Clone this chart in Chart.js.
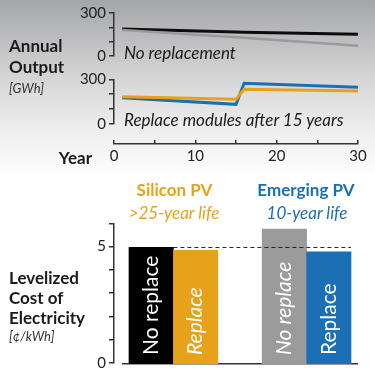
<!DOCTYPE html>
<html><head><meta charset="utf-8">
<script src="https://cdn.jsdelivr.net/npm/chart.js@4"></script>
<style>
html,body{margin:0;padding:0;}
body{width:375px;height:375px;position:relative;overflow:hidden;
 background:linear-gradient(to bottom,#a4a5a7 0px,#d4d4d5 75px,#eeeeee 130px,#ffffff 178px,#ffffff 375px);
 font-family:Lato,sans-serif;color:#1a1a1a;}
canvas{position:absolute;left:0;top:0;}
.t{position:absolute;white-space:nowrap;line-height:1;transform:translateY(-50%);}
.b{font-weight:700;font-size:17px;}
.i{font-style:italic;font-size:17px;}
.s{font-style:italic;font-size:13px;color:#333;}
.c{transform:translate(-50%,-50%);}
</style></head><body>
<canvas id="p1" width="375" height="375"></canvas>
<canvas id="p2" width="375" height="375"></canvas>
<canvas id="px" width="375" height="375"></canvas>
<canvas id="by" width="375" height="375"></canvas>
<canvas id="bb" width="375" height="375"></canvas>

<div class="t b" style="left:9px;top:45px">Annual</div>
<div class="t b" style="left:9px;top:66px">Output</div>
<div class="t s" style="left:9px;top:88px">[GWh]</div>
<div class="t b" style="right:283px;top:157px">Year</div>
<div class="t i" style="left:124px;top:52px">No replacement</div>
<div class="t i" style="left:124px;top:119px">Replace modules after 15 years</div>
<div class="t b c" style="left:174.5px;top:188.5px;color:#e8a11b">Silicon PV</div>
<div class="t i c" style="left:174px;top:212px;color:#e8a11b">&gt;25-year life</div>
<div class="t b c" style="left:306px;top:188.5px;color:#1a6fb5">Emerging PV</div>
<div class="t i c" style="left:307px;top:212px;color:#1a6fb5">10-year life</div>
<div class="t b" style="left:9px;top:277px">Levelized</div>
<div class="t b" style="left:9px;top:297px">Cost of</div>
<div class="t b" style="left:9px;top:317px">Electricity</div>
<div class="t s" style="left:9px;top:336px">[¢/kWh]</div>

<script>
// ---- data ----
const years = [1, 15, 16, 30];
const siliconNoReplace = [188, 167, 166, 151];
const emergingNoReplace = [181, 130, 127, 72];
const siliconReplace = [183, 166, 233, 221];
const emergingReplace = [176, 132, 273, 246];
const outputTicks = [0, 300];
const yearTicks = [0, 10, 20, 30];

const barLabels = ['No replace', 'Replace', 'No replace', 'Replace'];
const barSlots = [0, 1, 3, 4];
const lcoe = [4.97, 4.85, 5.75, 4.78];
const lcoeTicks = [0, 5];

// ---- styles ----
const BLACK = '#0d0d0d', GRAY = '#9a9a9a', ORANGE = '#e8a11b', BLUE = '#1a6fb5';
const barColors = ['#000000', ORANGE, '#9b9b9b', BLUE];
const barItalic = [false, true, true, false];
const AXIS = '#333333';

Chart.defaults.font.family = 'Lato';
Chart.defaults.font.size = 15;
Chart.defaults.color = '#222';
Chart.defaults.animation = false;
Chart.defaults.responsive = false;
Chart.defaults.devicePixelRatio = 1;
Chart.defaults.plugins.legend.display = false;
Chart.defaults.plugins.tooltip.enabled = false;

function pts(ys) { return years.map((x, i) => ({x, y: ys[i]})); }

function yAxis(min, max, step, labels) {
  return {
    type: 'linear', min, max,
    afterFit: s => { s.width = 114; },
    ticks: { stepSize: step, padding: 3, autoSkip: false, callback: v => labels.includes(v) ? String(v) : '' },
    grid: { drawOnChartArea: false, tickLength: 5, color: AXIS, lineWidth: 1.5 },
    border: { color: AXIS, width: 1.5 }
  };
}
const hiddenX = { type: 'linear', min: 0, max: 30, display: false };

function linePanel(id, top, bottom, sets) {
  new Chart(document.getElementById(id), {
    type: 'line',
    data: { datasets: sets.map(([d, c, w]) => ({ data: pts(d), borderColor: c, borderWidth: w, pointRadius: 0, tension: 0, fill: false })) },
    options: {
      layout: { padding: { left: 0, right: 17, top, bottom: 375 - bottom } },
      scales: { x: hiddenX, y: yAxis(0, 300, 100, outputTicks) }
    }
  });
}
linePanel('p1', 13, 56, [[emergingNoReplace, GRAY, 2.5], [siliconNoReplace, BLACK, 3]]);
linePanel('p2', 79.3, 124, [[siliconReplace, ORANGE, 3], [emergingReplace, BLUE, 3]]);

// Year axis
new Chart(document.getElementById('px'), {
  type: 'line',
  data: { datasets: [] },
  options: {
    layout: { padding: { left: 114, right: 17, top: 140, bottom: 375 - 143.5 - 30 } },
    scales: {
      x: {
        type: 'linear', min: 0, max: 30,
        afterFit: s => { s.height = 30; },
        ticks: { stepSize: 5, padding: 4, maxRotation: 0, autoSkip: false, callback: v => yearTicks.includes(v) ? String(v) : '' },
        grid: { drawTicks: false, color: AXIS, lineWidth: 1.5 },
        border: { color: AXIS, width: 1.5 }
      },
      y: { display: false }
    }
  }
});

// LCOE y axis
new Chart(document.getElementById('by'), {
  type: 'line',
  data: { datasets: [] },
  options: {
    layout: { padding: { left: 0, right: 17, top: 223.3, bottom: 11 } },
    scales: { x: { display: false }, y: yAxis(0, 6, 1, lcoeTicks) }
  }
});

// bars
const barText = {
  id: 'barText',
  afterDatasetsDraw(chart) {
    const meta = chart.getDatasetMeta(0);
    const ctx = chart.ctx;
    meta.data.forEach((el, i) => {
      const p = el.getProps(['x', 'base'], true);
      ctx.save();
      ctx.translate(p.x, p.base - 9);
      ctx.rotate(-Math.PI / 2);
      ctx.font = (barItalic[i] ? 'italic ' : '') + '21px Lato';
      ctx.fillStyle = '#ffffff';
      ctx.textAlign = 'left';
      ctx.textBaseline = 'middle';
      ctx.fillText(barLabels[i], 0, 0);
      ctx.restore();
    });
  }
};
new Chart(document.getElementById('bb'), {
  type: 'bar',
  data: {
    datasets: [
      { type: 'bar', order: 2, data: barSlots.map((x, i) => ({x, y: lcoe[i]})), backgroundColor: barColors,
        categoryPercentage: 1, barPercentage: 1, borderWidth: 0 },
      { type: 'line', order: 1, data: [{x: barSlots[0] + 0.5, y: lcoe[0]}, {x: barSlots[3] + 0.5, y: lcoe[0]}],
        borderColor: '#222', borderWidth: 1, borderDash: [4, 3], pointRadius: 0, fill: false }
    ]
  },
  options: {
    layout: { padding: { left: 123, right: 18, top: 223.3, bottom: 11 } },
    scales: {
      x: { type: 'linear', min: -0.635, max: 4.635, offset: false,
        afterFit: s => { s.height = 0; },
        ticks: { display: false, stepSize: 1, includeBounds: false },
        grid: { display: false, drawTicks: false, offset: false },
        border: { display: true, color: AXIS, width: 1.5 } },
      y: { type: 'linear', min: 0, max: 6, display: false }
    }
  },
  plugins: [barText]
});
</script>
</body></html>
